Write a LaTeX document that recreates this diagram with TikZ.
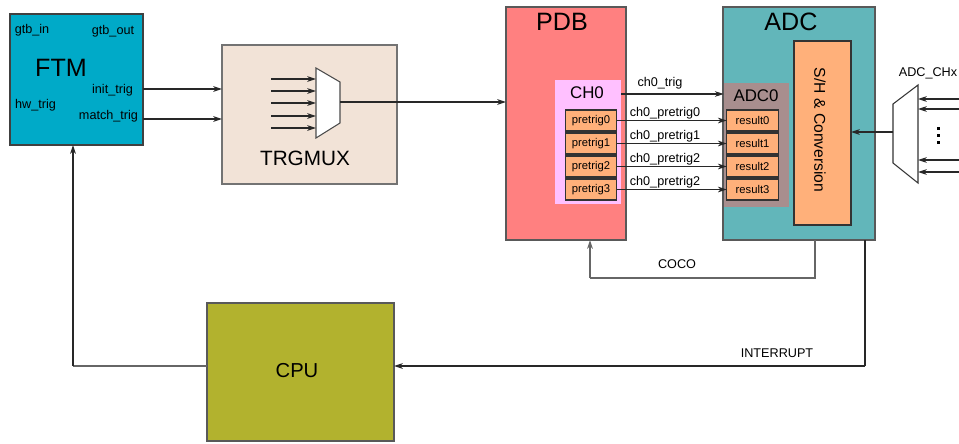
\documentclass[tikz,border=0pt]{standalone}
\usepackage{fontspec}
\setmainfont{Liberation Sans}
\usetikzlibrary{arrows.meta}
\definecolor{ftmc}{RGB}{0,170,200}
\definecolor{trgc}{RGB}{242,227,215}
\definecolor{pdbc}{RGB}{255,128,128}
\definecolor{chc}{RGB}{255,192,255}
\definecolor{orc}{RGB}{255,176,122}
\definecolor{adcc}{RGB}{98,182,186}
\definecolor{adc0c}{RGB}{168,142,142}
\definecolor{cpuc}{RGB}{178,178,46}
\definecolor{linec}{RGB}{40,40,40}
\tikzset{
  box/.style={draw=black!65, line width=0.7pt, inner sep=0pt, outer sep=0pt},
  sub/.style={draw=black!80, line width=0.6pt, fill=orc, inner sep=0pt, outer sep=0pt, minimum width=1.03cm, minimum height=0.42cm, font=\fontsize{6.4}{7}\selectfont},
  arr/.style={draw=linec, line width=0.6pt, -{Stealth[length=5pt,width=3.2pt,inset=1.5pt]}},
  ln/.style={draw=linec, line width=0.6pt},
  lbl/.style={inner sep=0pt, font=\fontsize{7.2}{8}\selectfont},
  big/.style={inner sep=0pt, font=\fontsize{14.3}{16}\selectfont},
  mid/.style={inner sep=0pt, font=\fontsize{9.6}{11}\selectfont},
}
\begin{document}
\begin{tikzpicture}[x=0.02cm,y=-0.02cm]
\useasboundingbox (0,0) rectangle (959,443);
% FTM
\node[box, draw=black!75, fill=ftmc, minimum width=2.66cm, minimum height=2.62cm] (ftm) at (76.5,79.5) {};
\node[lbl] (gtbin) at (32,30) {gtb\_in};
\node[lbl] (gtbout) at (113,31) {gtb\_out};
\node[big] (ftmt) at (61,68) {FTM};
\node[lbl] (inittrig) at (112.5,90) {init\_trig};
\node[lbl] (hwtrig) at (35.5,105) {hw\_trig};
\node[lbl] (matchtrig) at (108.5,116) {match\_trig};
% TRGMUX
\node[box, draw=black!55, fill=trgc, minimum width=3.5cm, minimum height=2.78cm] (trg) at (309.5,114.5) {};
\node[inner sep=0pt, font=\fontsize{11.8}{14}\selectfont] (trgt) at (305,158) {TRGMUX};
\draw[draw=black!70, line width=0.6pt, fill=white] (316,68) coordinate (m1a) -- (340,82) -- (340,123) -- (316,138) -- cycle;
\coordinate (mout) at (340,102);
\foreach \y [count=\i] in {79,91,103,116,128}{
  \coordinate (min\i) at (271,\y);
  \draw[arr] (min\i) -- (316,\y);
}
% PDB
\node[box, fill=pdbc, minimum width=2.4cm, minimum height=4.66cm] (pdb) at (566,123.5) {};
\node[big] (pdbt) at (562,22) {PDB};
\node[fill=chc, inner sep=0pt, minimum width=1.32cm, minimum height=2.48cm] (ch0) at (588,142) {};
\node[mid] (ch0t) at (587,93) {CH0};
\foreach \i in {0,1,2,3}{
  \node[sub] (pre\i) at (591,120.5+23*\i) {pretrig\i};
}
% ADC
\node[box, fill=adcc, minimum width=3.04cm, minimum height=4.66cm] (adc) at (799,123.5) {};
\node[big] (adct) at (791,22) {ADC};
\node[fill=adc0c, inner sep=0pt, minimum width=1.3cm, minimum height=2.48cm] (adc0) at (756.5,145) {};
\node[mid] (adc0t) at (756,96) {ADC0};
\foreach \i in {0,1,2,3}{
  \node[sub] (res\i) at (752.5,120.5+23*\i) {result\i};
}
\node[sub, minimum width=1.14cm, minimum height=3.68cm] (sh) at (822.5,133) {};
\node[inner sep=0pt, rotate=-90, font=\fontsize{8.9}{10}\selectfont] (sht) at (820,130) {S/H \& Conversion};
% ADC mux
\draw[draw=black!80, line width=0.6pt, fill=white] (893,104) -- (918,85) -- (918,183) -- (893,163) -- cycle;
\node[lbl] (chx) at (928,73) {ADC\_CHx};
\coordinate (amout) at (893,132);
\foreach \y [count=\i] in {99,109,160,172}{
  \coordinate (ain\i) at (959,\y);
  \draw[arr] (ain\i) -- (918,\y);
}
\foreach \y in {128,135,142}{ \fill (936.5,\y-1.5) rectangle ++(3,3); }
\draw[arr] (amout) -- (amout -| sh.east);
% CPU
\node[box, fill=cpuc, minimum width=3.74cm, minimum height=2.76cm] (cpu) at (300.5,372) {};
\node[inner sep=0pt, font=\fontsize{11.5}{13}\selectfont] (cput) at (297,371) {CPU};
% connectors
\coordinate (c1) at (143,89);
\coordinate (c2) at (143,119);
\draw[arr] (c1) -- (c1 -| trg.west);
\draw[arr] (c2) -- (c2 -| trg.west);
\draw[arr] (mout) -- (mout -| pdb.west);
\coordinate (t0) at (621,94);
\draw[arr] (t0) -- (t0 -| adc0.west);
\node[lbl] (ch0trig) at (660,83) {ch0\_trig};
\foreach \i/\n in {0/0,1/1,2/2,3/2}{
  \draw[arr] (pre\i.east) -- (res\i.west);
  \node[lbl] at (665,113+23*\i) {ch0\_pretrig\n};
}
% COCO
\coordinate (cocoA) at (815,240);
\coordinate (cocoB) at (815,278);
\coordinate (cocoC) at (590,278);
\draw[draw=black!60, line width=0.7pt] (cocoA) -- (cocoB) -- (cocoC);
\draw[arr, draw=black!60, line width=0.7pt] (cocoC) -- (cocoC |- pdb.south);
\node[lbl] (coco) at (677,264) {COCO};
% INTERRUPT
\coordinate (intA) at (865,240);
\coordinate (intB) at (865,366);
\draw[ln] (intA) -- (intB);
\draw[arr] (intB) -- (intB -| cpu.east);
\node[lbl] (intr) at (777,353) {INTERRUPT};
% CPU -> FTM
\coordinate (fbA) at (207,366);
\coordinate (fbB) at (73,366);
\draw[ln, draw=black!60] (fbA) -- (fbB);
\draw[arr] (fbB) -- (fbB |- ftm.south);
\end{tikzpicture}
\end{document}
